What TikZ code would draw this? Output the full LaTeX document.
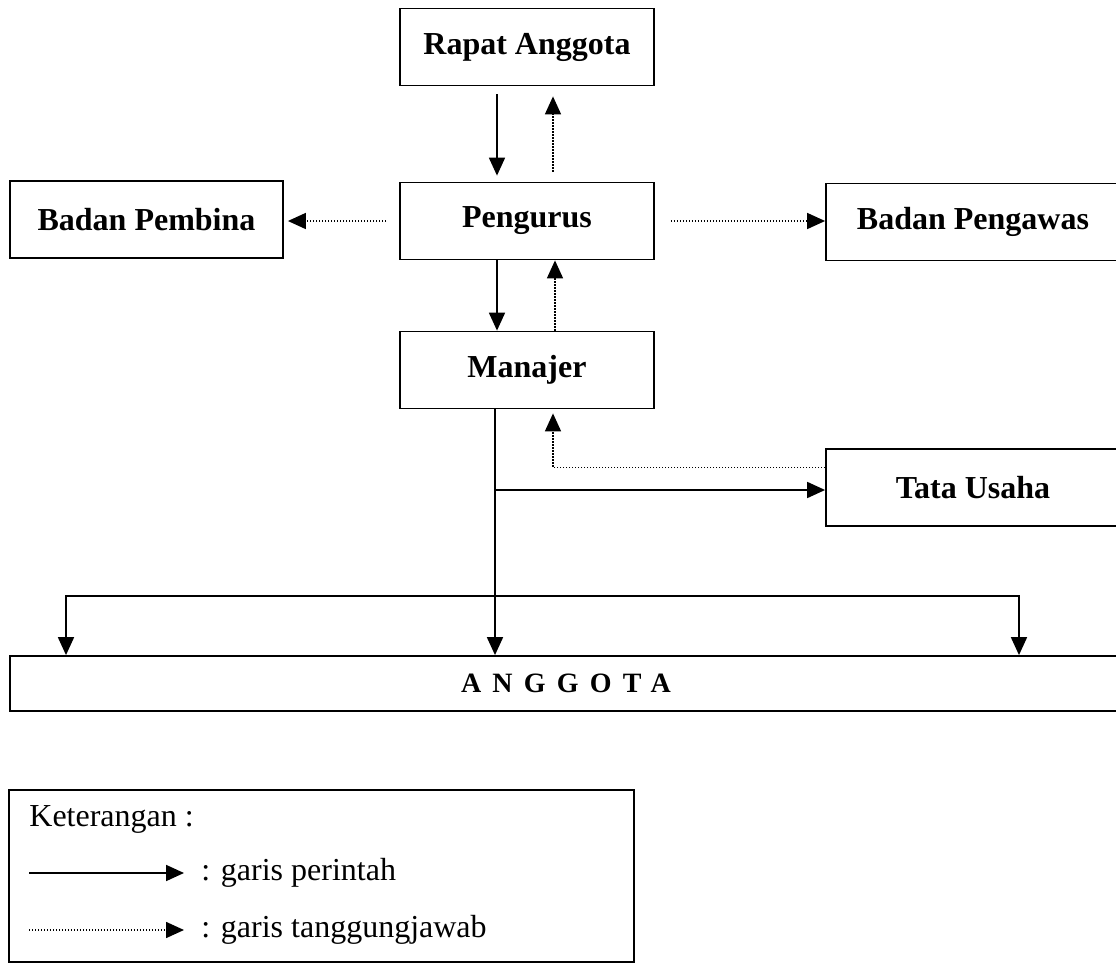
\documentclass[tikz,border=0pt]{standalone}
\usepackage{fontspec}
\setmainfont{Liberation Serif}
\usetikzlibrary{arrows.meta}

\tikzset{
  unit/.style={draw, line width=0.9pt, minimum width=127pt, minimum height=38.5pt,
    inner sep=0pt, font=\fontsize{16}{19}\selectfont\bfseries},
  cmd/.style={->, line width=0.9pt},
  resp/.style={->, line width=0.8pt, dash pattern=on 0.7pt off 0.8pt},
  legtext/.style={anchor=west, inner sep=0pt, font=\fontsize{16}{19}\selectfont},
}

\begin{document}
\begin{tikzpicture}[>={Triangle[length=9pt,width=8pt]}, x=0.5pt, y=-0.5pt]
  \path[fill=white, use as bounding box] (0,0) rectangle (1116,980);

  \node[unit] (RA) at (527,47) {Rapat Anggota};
  \node[unit] (PG) at (527,221) {Pengurus};
  \node[unit] (MJ) at (527,370) {Manajer};
  \node[unit, minimum width=136.5pt] (BPb) at (146.5,219.5) {Badan Pembina};
  \node[unit, minimum width=147pt] (BPw) at (973,222) {Badan Pengawas};
  \node[unit, minimum width=147pt] (TU) at (973,487.5) {Tata Usaha};
  \node[unit, minimum width=556pt, minimum height=27.5pt,
    font=\fontsize{14}{17}\selectfont\bfseries\addfontfeatures{LetterSpace=40}] (AG) at (566,683.5) {ANGGOTA};

  % garis antara rapat, pengurus dan manajer
  \draw[cmd, shorten <=4pt, shorten >=3pt] ([xshift=-15pt]RA.south) -- ([xshift=-15pt]PG.north);
  \draw[resp, shorten <=5pt, shorten >=5pt] ([xshift=13pt]PG.north) -- ([xshift=13pt]RA.south);
  \draw[cmd] ([xshift=-15pt]PG.south) -- ([xshift=-15pt]MJ.north);
  \draw[resp] ([xshift=14pt]MJ.north) -- ([xshift=14pt]PG.south);
  \draw[resp, shorten <=6.5pt, shorten >=2pt] (PG.west) -- (PG.west -| BPb.east);
  \draw[resp, shorten <=8pt] (PG.east) -- (PG.east -| BPw.west);

  % manajer ke tata usaha dan anggota
  \coordinate (br) at (495,490);
  \draw[cmd] ([xshift=-16pt]MJ.south) -- ([xshift=-16pt]MJ.south |- AG.north);
  \draw[cmd] (br) -- (br -| TU.west);
  \draw[resp, shorten >=2pt] ([yshift=10pt]TU.west) -| ([xshift=13pt]MJ.south);
  \coordinate (dl) at (66,596);
  \coordinate (dr) at (1019,596);
  \draw[cmd, <->] (dl |- AG.north) |- (dr) -- (dr |- AG.north);

  % keterangan
  \node[draw, line width=0.9pt, minimum width=312.5pt, minimum height=86pt] (leg) at (321.5,876) {};
  \node[legtext] (ket) at (29,819) {Keterangan :};
  \coordinate (s1) at (29,873);
  \coordinate (e1) at (184,873);
  \coordinate (s2) at (29,930);
  \coordinate (e2) at (184,930);
  \draw[cmd] (s1) -- (e1);
  \draw[resp] (s2) -- (e2);
  \node[legtext] (t1) at (201,873) {: garis perintah};
  \node[legtext] (t2) at (201,930) {: garis tanggungjawab};
\end{tikzpicture}
\end{document}
